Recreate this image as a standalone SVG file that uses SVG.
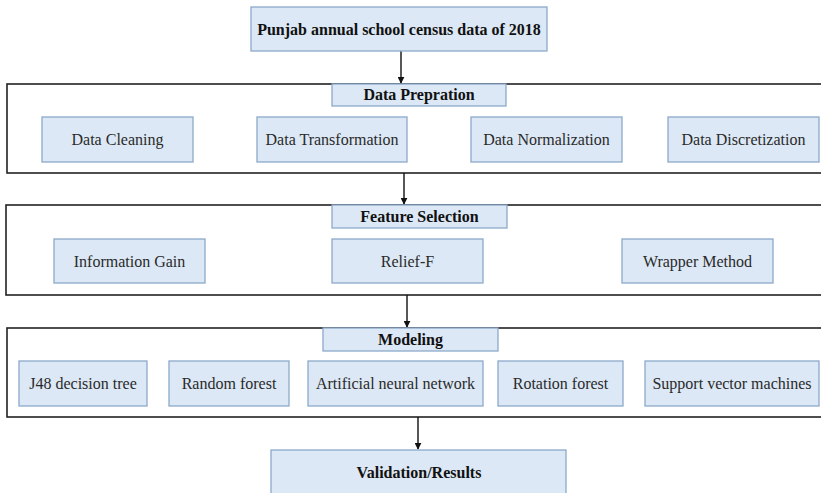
<svg xmlns="http://www.w3.org/2000/svg" width="821" height="493" viewBox="0 0 821 493">
<defs>
<style>
.bg{fill:#ffffff}
.sec{fill:#ffffff;stroke:#222222;stroke-width:1.6}
.box{fill:#dce8f5;stroke:#8ca9c9;stroke-width:1.3}
.t{font-family:'Liberation Serif','DejaVu Serif','Times New Roman',serif;font-size:16px;fill:#2a2a2a;text-anchor:middle}
.b{font-weight:bold;fill:#111111}
.c{stroke:#111111;stroke-width:1.4;fill:none;marker-end:url(#ah)}
</style>
<marker id="ah" viewBox="0 0 10 10" refX="9" refY="5" markerWidth="7" markerHeight="7" markerUnits="userSpaceOnUse" orient="auto">
<path d="M0,0 L10,5 L0,10 z" fill="#111111"/>
</marker>
</defs>
<rect class="bg" x="0" y="0" width="821" height="493"/>

<g id="sections">
<rect class="sec" x="7" y="84" width="820" height="89"/>
<rect class="sec" x="6" y="205" width="821" height="90"/>
<rect class="sec" x="7" y="328" width="820" height="89"/>
</g>

<g id="connectors">
<line class="c" x1="401" y1="51" x2="401" y2="83"/>
<line class="c" x1="404" y1="173" x2="404" y2="204"/>
<line class="c" x1="407" y1="295" x2="407" y2="327"/>
<line class="c" x1="418" y1="417" x2="418" y2="449"/>
</g>

<g font-family="Liberation Serif, serif">
<g id="census">
<rect class="box" x="251" y="7" width="296" height="44"/>
<text class="t b" x="399" y="35">Punjab annual school census data of 2018</text>
</g>

<g id="data-prepration">
<rect class="box" x="332" y="84" width="174" height="22"/>
<text class="t b" x="419" y="100">Data Prepration</text>
</g>
<g id="data-cleaning">
<rect class="box" x="42" y="117" width="151" height="45"/>
<text class="t" x="117.5" y="145">Data Cleaning</text>
</g>
<g id="data-transformation">
<rect class="box" x="257" y="117" width="150" height="45"/>
<text class="t" x="332" y="145">Data Transformation</text>
</g>
<g id="data-normalization">
<rect class="box" x="471" y="117" width="151" height="45"/>
<text class="t" x="546.5" y="145">Data Normalization</text>
</g>
<g id="data-discretization">
<rect class="box" x="668" y="117" width="151" height="45"/>
<text class="t" x="743.5" y="145">Data Discretization</text>
</g>

<g id="feature-selection">
<rect class="box" x="332" y="205" width="175" height="23"/>
<text class="t b" x="419.5" y="222">Feature Selection</text>
</g>
<g id="information-gain">
<rect class="box" x="54" y="239" width="151" height="44"/>
<text class="t" x="129.5" y="267">Information Gain</text>
</g>
<g id="relief-f">
<rect class="box" x="332" y="239" width="151" height="44"/>
<text class="t" x="407.5" y="267">Relief-F</text>
</g>
<g id="wrapper-method">
<rect class="box" x="622" y="239" width="151" height="44"/>
<text class="t" x="697.5" y="267">Wrapper Method</text>
</g>

<g id="modeling">
<rect class="box" x="323" y="328" width="175" height="23"/>
<text class="t b" x="410.5" y="345">Modeling</text>
</g>
<g id="j48">
<rect class="box" x="19" y="361" width="128" height="45"/>
<text class="t" x="83" y="389">J48 decision tree</text>
</g>
<g id="random-forest">
<rect class="box" x="169" y="361" width="120" height="45"/>
<text class="t" x="229" y="389">Random forest</text>
</g>
<g id="ann">
<rect class="box" x="308" y="361" width="175" height="45"/>
<text class="t" x="395.5" y="389">Artificial neural network</text>
</g>
<g id="rotation-forest">
<rect class="box" x="498" y="361" width="125" height="45"/>
<text class="t" x="560.5" y="389">Rotation forest</text>
</g>
<g id="svm">
<rect class="box" x="645" y="361" width="174" height="45"/>
<text class="t" x="732" y="389">Support vector machines</text>
</g>

<g id="validation">
<rect class="box" x="271" y="450" width="295" height="50"/>
<text class="t b" x="419" y="478">Validation/Results</text>
</g>
</g>
</svg>
